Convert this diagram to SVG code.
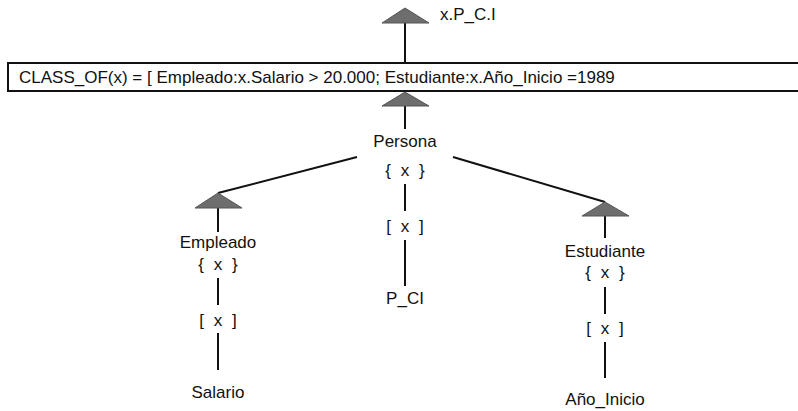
<svg xmlns="http://www.w3.org/2000/svg" width="798" height="411" viewBox="0 0 798 411">
<style>
text{font-family:"Liberation Sans",Arial,sans-serif;font-size:17px;fill:#111}
.c{text-anchor:middle}
.b{word-spacing:5px}
.l{stroke:#111;stroke-width:2;fill:none}
.t{fill:#6e6e6e;stroke:#555;stroke-width:1}
</style>
<rect width="798" height="411" fill="#fff"/>
<g id="connectors">
<line class="l" x1="405" y1="22" x2="405" y2="63"/>
<line class="l" x1="405" y1="106" x2="405" y2="129"/>
<line class="l" x1="405" y1="184" x2="405" y2="211"/>
<line class="l" x1="405" y1="240" x2="405" y2="286"/>
<line class="l" x1="357" y1="157" x2="218" y2="193"/>
<line class="l" x1="453" y1="157" x2="605" y2="202"/>
<line class="l" x1="218" y1="208" x2="218" y2="232"/>
<line class="l" x1="218" y1="278" x2="218" y2="305"/>
<line class="l" x1="218" y1="333" x2="218" y2="370"/>
<line class="l" x1="605" y1="216" x2="605" y2="238"/>
<line class="l" x1="605" y1="287" x2="605" y2="314"/>
<line class="l" x1="605" y1="342" x2="605" y2="378"/>
</g>
<g id="top">
<polygon class="t" points="405,8 429,23 382,23"/>
<text x="440" y="20">x.P_C.I</text>
</g>
<g id="class_of">
<rect x="8" y="63" width="800" height="28" fill="#fff" stroke="#111" stroke-width="2"/>
<text x="19" y="83">CLASS_OF(x) = [ Empleado:x.Salario &gt; 20.000; Estudiante:x.Año_Inicio =1989</text>
</g>
<g id="persona">
<polygon class="t" points="405,92 429,106 382,106"/>
<text class="c" x="405" y="147">Persona</text>
<text class="c b" x="405" y="176">{ x }</text>
<text class="c b" x="405" y="232">[ x ]</text>
<text class="c" x="405" y="304">P_CI</text>
</g>
<g id="empleado">
<polygon class="t" points="218,193 242,208 195,208"/>
<text class="c" x="218" y="248">Empleado</text>
<text class="c b" x="218" y="270">{ x }</text>
<text class="c b" x="218" y="326">[ x ]</text>
<text class="c" x="218" y="398">Salario</text>
</g>
<g id="estudiante">
<polygon class="t" points="605,202 629,216 582,216"/>
<text class="c" x="605" y="257">Estudiante</text>
<text class="c b" x="605" y="278">{ x }</text>
<text class="c b" x="605" y="334">[ x ]</text>
<text class="c" x="605" y="405">Año_Inicio</text>
</g>
</svg>
